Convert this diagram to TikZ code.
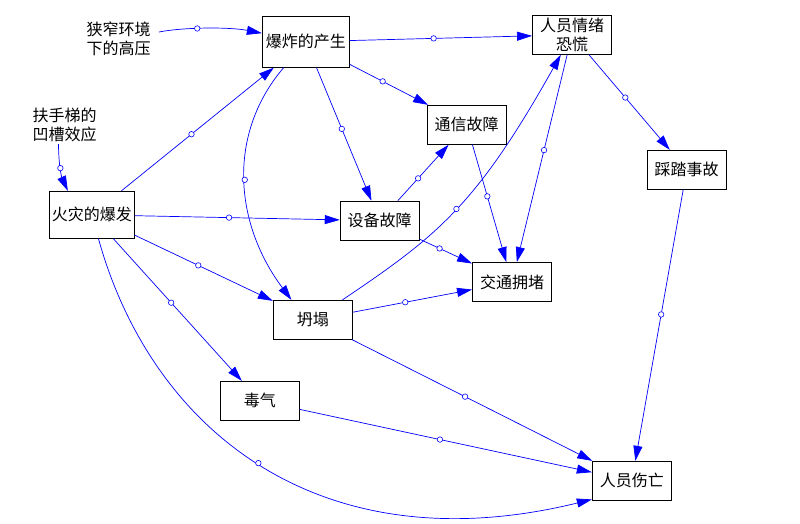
\documentclass[tikz,border=0pt]{standalone}
\usepackage{fontspec}
\newfontfamily\cjk{Noto Sans CJK SC}
\usetikzlibrary{arrows.meta}
\begin{document}
\begin{tikzpicture}[x=1pt, y=-1pt, font=\cjk\fontsize{16pt}{19pt}\selectfont,
	box/.style={draw, line width=0.9pt, minimum width=79pt, minimum height=39pt, inner sep=1pt, align=center},
	link/.style={blue, line width=0.7pt, -{Triangle[length=15pt,width=9pt]}},
	mk/.style={circle, draw=blue, fill=white, line width=0.6pt, inner sep=0pt, minimum size=5.5pt, pos=0.46}]
	\useasboundingbox (0,0) rectangle (800,523);
	\node[align=center, inner sep=2pt] (gy) at (118.7,39) {狭窄环境\\下的高压};
	\node[align=center, inner sep=2pt] (fs) at (64.5,125) {扶手梯的\\凹槽效应};
	\node[box, minimum width=87pt, minimum height=51pt] (bz) at (305.8,41.7) {爆炸的产生};
	\node[box] (qx) at (572,34.8) {人员情绪\\恐慌};
	\node[box] (tx) at (466.7,124.8) {通信故障};
	\node[box] (ct) at (686.7,169.8) {踩踏事故};
	\node[box, minimum width=85pt, minimum height=47pt] (hz) at (91.8,214.8) {火灾的爆发};
	\node[box] (sb) at (379.7,220.7) {设备故障};
	\node[box] (jt) at (512,282) {交通拥堵};
	\node[box] (ta) at (312.8,319.8) {坍塌};
	\node[box] (dq) at (259.8,400.8) {毒气};
	\node[box] (sw) at (631.8,480.8) {人员伤亡};
	\draw[link] ([xshift=6pt, yshift=7pt]gy.east) .. controls (185,27) and (230,27) .. (bz) node[mk, pos=0.4] {};
	\draw[link] ([xshift=-6pt]fs.south) .. controls (58.7,168) and (62,178) .. (hz.135) node[mk, pos=0.42] {};
	\draw[link] (hz) -- (bz) node[mk] {};
	\draw[link] (hz) -- (sb) node[mk] {};
	\draw[link] (bz) -- (sb) node[mk] {};
	\draw[link] (bz) -- (tx) node[mk, pos=0.42] {};
	\draw[link] (bz) -- (qx) node[mk] {};
	\draw[link] (bz) .. controls (227,134) and (234,223) .. (ta.137) node[mk, pos=0.5] {};
	\draw[link] (sb) -- (tx) node[mk, pos=0.4] {};
	\draw[link] (sb) -- (jt) node[mk, pos=0.38] {};
	\draw[link] (tx) -- (jt) node[mk, pos=0.44] {};
	\draw[link] (qx) -- (jt) node[mk] {};
	\draw[link] (ta) .. controls (439,235) and (477,204) .. (qx) node[mk, pos=0.5] {};
	\draw[link] (qx) -- (ct) node[mk, pos=0.45] {};
	\draw[link] (ct) -- (sw) node[mk] {};
	\draw[link] (hz) -- (ta) node[mk] {};
	\draw[link] (ta) -- (jt) node[mk, pos=0.44] {};
	\draw[link] (hz) -- (dq) node[mk, pos=0.45] {};
	\draw[link] (ta) -- (sw) node[mk, pos=0.47] {};
	\draw[link] (dq) -- (sw) node[mk, pos=0.48] {};
	\draw[link] (hz) .. controls (152,431) and (320,566) .. (sw.205) node[mk, pos=0.49] {};
\end{tikzpicture}
\end{document}
